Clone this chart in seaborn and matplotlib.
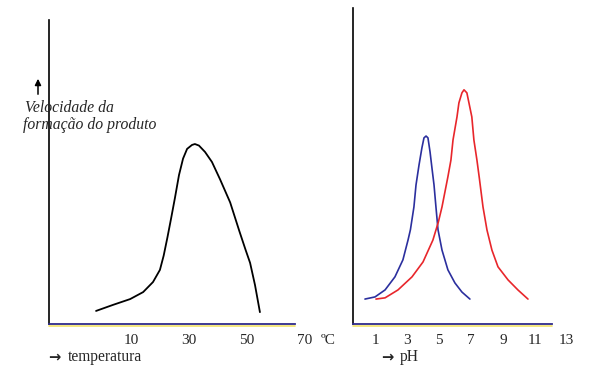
import matplotlib
matplotlib.use("Agg")
import matplotlib.pyplot as plt
import seaborn as sns

# ---- data ----
temp_x = [-2.2, 3.7, 9.6, 14.1, 17.5, 19.9, 21.2, 22.5, 23.8, 25.1, 26.5, 27.9,
          29.3, 31.0, 32.0, 33.4, 35.5, 37.9, 40.7, 44.2, 47.4, 49.5, 51.1,
          52.8, 54.5]
temp_v = [4.3, 6.3, 8.2, 10.5, 13.8, 17.8, 22.5, 28.5, 34.9, 41.5, 49.0, 54.4,
          57.6, 58.9, 59.2, 58.7, 56.6, 53.3, 47.6, 40.0, 30.5, 24.5, 20.1,
          12.8, 3.9]

ph_blue_x = [0.35, 0.98, 1.61, 2.23, 2.73, 3.05, 3.20, 3.42, 3.55, 3.74, 3.92,
             4.05, 4.18, 4.30, 4.43, 4.55, 4.68, 4.80, 4.93, 5.18, 5.55, 5.99,
             6.43, 6.93]
ph_blue_v = [8.2, 8.9, 11.2, 15.5, 21.1, 27.6, 31.0, 38.5, 45.7, 52.3, 57.9,
             61.2, 61.8, 61.2, 56.6, 51.3, 45.7, 38.5, 31.0, 24.3, 17.8, 13.5,
             10.5, 8.2]

ph_red_x = [1.04, 1.61, 2.42, 3.30, 3.99, 4.61, 4.95, 5.18, 5.55, 5.74, 5.87,
            6.12, 6.24, 6.43, 6.56, 6.74, 6.87, 7.05, 7.18, 7.37, 7.52, 7.75,
            8.00, 8.31, 8.69, 9.32, 9.94, 10.57]
ph_red_v = [8.2, 8.6, 11.2, 15.5, 20.4, 27.6, 33.5, 38.5, 48.4, 53.9, 60.5,
            68.1, 72.7, 76.0, 77.0, 76.0, 72.7, 68.1, 60.5, 53.9, 48.0, 38.5,
            30.9, 24.3, 18.8, 14.5, 11.2, 8.2]

temp_ticks = [10, 30, 50, 70]
ph_ticks = [1, 3, 5, 7, 9, 11, 13]

sns.set_style("white")
plt.rcParams["font.family"] = ["Liberation Serif", "DejaVu Serif"]

W, H = 597, 382
fig = plt.figure(figsize=(W / 100, H / 100), dpi=100)

def fx(px):
    return px / W

def fy(py):
    return 1 - py / H

axL = fig.add_axes([fx(49), fy(324), (310.5 - 49) / W, (324 - 20) / H])
axR = fig.add_axes([fx(353), fy(324), (574.7 - 353) / W, (324 - 8) / H])

navy = "#2e2a8a"
for ax, xl, xr, spine_end, yl, yt in [
    (axL, -18.48, 72, 66.64, 0, 100),
    (axR, -0.40, 13.5, 12.08, 0, 103.9),
]:
    ax.set_xlim(xl, xr)
    ax.set_ylim(yl, yt)
    ax.set_facecolor("none")
    for s in ["top", "right"]:
        ax.spines[s].set_visible(False)
    ax.spines["left"].set_color("black")
    ax.spines["left"].set_linewidth(1.2)
    ax.spines["bottom"].set_color(navy)
    ax.spines["bottom"].set_linewidth(1.3)
    ax.spines["bottom"].set_bounds(xl, spine_end)
    frac = (spine_end - xl) / (xr - xl)
    ax.plot([0, frac], [-0.006, -0.006], transform=ax.transAxes,
            color="#f2e36a", lw=1.2, clip_on=False, zorder=0)
    ax.set_yticks([])
    ax.tick_params(axis="x", length=0, pad=7.5, labelsize=11)
    ax.set_xlabel("")
    ax.set_ylabel("")

line_kw = dict(sort=False, estimator=None, solid_joinstyle="round",
               solid_capstyle="round")
sns.lineplot(x=temp_x, y=temp_v, ax=axL, color="black", lw=1.3, **line_kw)
sns.lineplot(x=ph_blue_x, y=ph_blue_v, ax=axR, color="#2b2f9e", lw=1.2, **line_kw)
sns.lineplot(x=ph_red_x, y=ph_red_v, ax=axR, color="#e8262b", lw=1.2, **line_kw)

axL.set_xticks(temp_ticks)
axL.set_xticklabels([str(t) for t in temp_ticks])
axR.set_xticks(ph_ticks)
axR.set_xticklabels([str(t) for t in ph_ticks])

fig.text(fx(321), fy(340), "ºC", ha="left", va="center", fontsize=11)

arrow_kw = dict(ha="left", va="center", fontsize=10.5, fontweight="bold",
                family=["DejaVu Sans"])
fig.text(fx(48), fy(357), "\u2192", **arrow_kw)
fig.text(fx(68), fy(357), "temperatura", ha="left", va="center", fontsize=11.2)
fig.text(fx(381), fy(357), "\u2192", **arrow_kw)
fig.text(fx(400), fy(357), "pH", ha="left", va="center", fontsize=11.2)

fig.text(fx(25), fy(108), "Velocidade da", ha="left", va="center",
         fontsize=11.3, style="italic")
fig.text(fx(23), fy(125), "formação do produto", ha="left", va="center",
         fontsize=11.3, style="italic")
fig.add_artist(matplotlib.patches.FancyArrowPatch(
    (fx(38), fy(97)), (fx(38), fy(76)), transform=fig.transFigure,
    arrowstyle="-|>", mutation_scale=9, color="black", lw=1.1))

fig.savefig("out.png", dpi=100, facecolor="white")
